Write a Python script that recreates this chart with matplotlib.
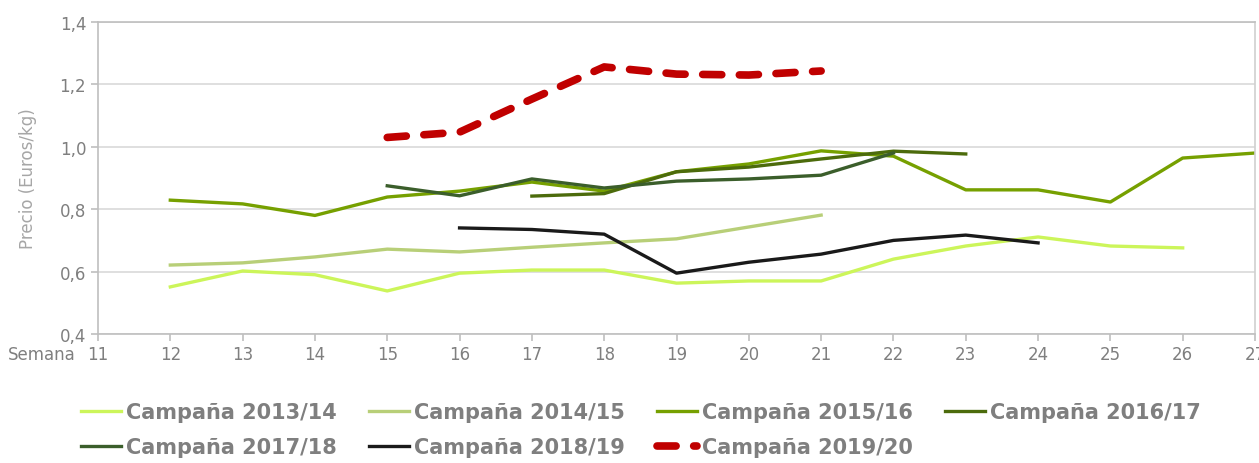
import matplotlib.pyplot as plt

# weeks and prices (Euros/kg) per campaign
w1314 = [12, 13, 14, 15, 16, 17, 18, 19, 20, 21, 22, 23, 24, 25, 26]
p1314 = [0.551, 0.602, 0.59, 0.538, 0.595, 0.605, 0.605, 0.563, 0.57, 0.57, 0.64, 0.682, 0.711, 0.682, 0.676]

w1415 = [12, 13, 14, 15, 16, 17, 18, 19, 20, 21]
p1415 = [0.621, 0.628, 0.647, 0.672, 0.663, 0.678, 0.692, 0.705, 0.743, 0.781]

w1516 = [12, 13, 14, 15, 16, 17, 18, 19, 20, 21, 22, 23, 24, 25, 26, 27]
p1516 = [0.829, 0.817, 0.78, 0.839, 0.858, 0.887, 0.858, 0.92, 0.945, 0.987, 0.97, 0.862, 0.862, 0.823, 0.964, 0.98]

w1617 = [17, 18, 19, 20, 21, 22, 23]
p1617 = [0.842, 0.85, 0.92, 0.935, 0.961, 0.986, 0.977]

w1718 = [15, 16, 17, 18, 19, 20, 21, 22]
p1718 = [0.875, 0.843, 0.897, 0.868, 0.89, 0.897, 0.909, 0.98]

w1819 = [16, 17, 18, 19, 20, 21, 22, 23, 24]
p1819 = [0.74, 0.735, 0.72, 0.595, 0.63, 0.656, 0.70, 0.717, 0.692]

w1920 = [15, 16, 17, 18, 19, 20, 21]
p1920 = [1.03, 1.047, 1.153, 1.256, 1.233, 1.23, 1.243]

fig = plt.figure(figsize=(12.59, 4.64), dpi=100)
ax = fig.add_axes([98/1259, 1-335/464, 1157/1259, 312/464])

gray = '#7f7f7f'
l1, = ax.plot(w1314, p1314, color='#ccf55a', lw=2.4, label='Campaña 2013/14')
l2, = ax.plot(w1415, p1415, color='#b8cf78', lw=2.4, label='Campaña 2014/15')
l3, = ax.plot(w1516, p1516, color='#76a000', lw=2.4, label='Campaña 2015/16')
l4, = ax.plot(w1617, p1617, color='#4c6b0c', lw=2.4, label='Campaña 2016/17')
l5, = ax.plot(w1718, p1718, color='#3b5e2b', lw=2.4, label='Campaña 2017/18')
l6, = ax.plot(w1819, p1819, color='#1a1a1a', lw=2.4, label='Campaña 2018/19')
l7, = ax.plot(w1920, p1920, color='#c00000', lw=5.5, dashes=(2.5, 2.3),
              dash_capstyle='round', label='Campaña 2019/20')

ax.set_xlim(11, 27)
ax.set_ylim(0.4, 1.4)
ax.set_xticks(range(11, 28))
ax.set_yticks([0.4, 0.6, 0.8, 1.0, 1.2, 1.4])
ax.set_yticklabels(['0,4', '0,6', '0,8', '1,0', '1,2', '1,4'])
ax.grid(axis='y', color='#d9d9d9', lw=1.2)
ax.set_axisbelow(True)
for s in ax.spines.values():
    s.set_color('#bfbfbf')
    s.set_linewidth(1.2)
ax.spines['right'].set_color('#d0d0d0')
ax.tick_params(colors='#bfbfbf', labelcolor=gray, labelsize=12, length=5, width=1.2)
ax.tick_params(axis='x', pad=3)

ax.set_ylabel('Precio (Euros/kg)', color='#a6a6a6', fontsize=12, labelpad=16)
fig.text(8/1259, 1-355/464, 'Semana', color=gray, fontsize=12, va='center', ha='left')

# row-major order for the legend (matplotlib fills columns first)
handles = [l1, l5, l2, l6, l3, l7, l4]
fig.legend(handles=handles, labels=[h.get_label() for h in handles],
           loc='upper left', bbox_to_anchor=(73/1259, 1-395/464), ncol=4,
           frameon=False, handlelength=1.9, handletextpad=0.25, columnspacing=1.55,
           labelspacing=0.72, prop={'weight': 'bold', 'size': 15},
           labelcolor=gray, borderaxespad=0)

fig.savefig('out.png', dpi=100)
